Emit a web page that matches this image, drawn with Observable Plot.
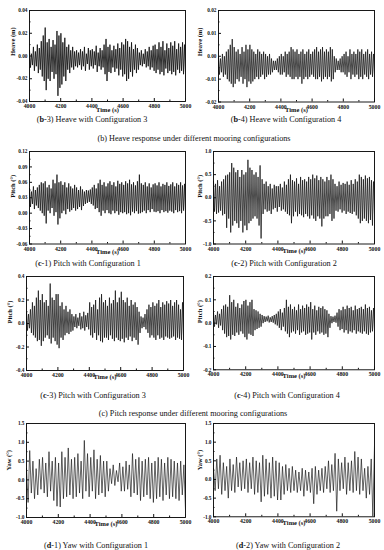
<!DOCTYPE html>
<html><head><meta charset="utf-8">
<script src="https://cdn.jsdelivr.net/npm/d3@7"></script>
<script src="https://cdn.jsdelivr.net/npm/@observablehq/plot@0.6"></script>
<style>
body{margin:0;background:#fff;}
#fig{position:relative;width:384px;height:550px;overflow:hidden;background:#fff;font-family:"Liberation Serif",serif;color:#111;}
.cap{position:absolute;white-space:nowrap;font-size:8.2px;line-height:9px;transform:translate(-50%,-50%);}
.panel{position:absolute;}
</style></head><body><div id="fig"></div>
<script>
// ---- data (time series sampled uniformly from 4000 s to 5000 s) ----
const T0 = 4000, T1 = 5000;
const xTicks = [4000, 4200, 4400, 4600, 4800, 5000];
const xMinor = [4100, 4300, 4500, 4700, 4900];

// Heave, configuration 3 (mm)
const heaveB3_mm = [
  5,-10,2,-8,8,-13,4,-9,10,-15,7,-12,13,-18,18,-22,
  25,-30,12,-20,15,-22,8,-14,14,-20,10,-16,22,-35,18,-28,
  20,-25,12,-18,16,-22,8,-12,10,-15,5,-10,8,-12,4,-9,
  5,-10,3,-8,6,-12,4,-9,8,-13,2,-7,7,-12,5,-9,
  6,-11,4,-8,9,-14,3,-9,7,-12,5,-10,10,-16,15,-22,
  8,-14,10,-15,5,-10,9,-14,6,-11,11,-17,7,-12,12,-18,
  10,-16,15,-22,13,-20,8,-14,12,-18,6,-12,10,-15,7,-12,
  3,-8,5,-9,2,-7,6,-10,4,-9,8,-12,5,-10,9,-13,
  10,-15,6,-12,12,-16,8,-14,13,-17,5,-11,11,-15,7,-13,
  12,-16,9,-14,13,-17,6,-12,11,-15,8,-13,12,-16,10,-14
];
// Heave, configuration 4 (mm)
const heaveB4_mm = [
  0,-8,-1,-7,1,-9,0,-8,2,-10,3,-11,5,-12,7.5,-13.5,
  4,-12,2,-10,3,-11,1,-9,4,-12,2,-10,5,-13.5,3,-11,
  5,-12,3,-11,2,-10,1,-9,3,-10,2,-9,1,-8,2,-10,
  1,-9,0,-8,1,-8,-1,-7,-2,-6,-2,-6,-1,-7,0,-8,
  1,-8,0,-7,2,-9,1,-8,2,-9,4,-10,3,-10,2,-9,
  3,-10,1,-9,2,-12,3,-10,1,-9,2,-10,3,-9,1,-8,
  2,-9,3,-10,4,-10,2,-9,3,-11,4,-10,2,-9,3,-10,
  2,-9,4,-11,3,-10,0,-7,-1,-6,-2,-6,-1,-7,0,-7,
  1,-8,2,-9,0,-7,3,-10,1,-8,2,-9,1,-8,3,-10,
  2,-9,3,-10,1,-8,2,-9,3,-10,1,-8,2,-9,1,-8
];
// Pitch, configuration 1 (thousandths of a degree)
const pitchC1_mdeg = [
  48,12,42,18,52,8,45,15,50,10,55,5,60,0,58,-5,
  62,-20,50,5,55,0,48,10,65,-5,58,2,75,-22,60,-10,
  62,0,55,5,60,-2,50,8,58,3,52,6,48,10,55,5,
  50,8,45,12,52,6,46,14,42,18,45,20,44,22,46,18,
  50,15,55,8,48,10,58,2,65,-5,55,5,60,0,52,6,
  58,0,62,-2,55,5,60,0,52,4,63,-3,57,2,60,0,
  55,2,62,-2,58,0,65,-4,56,3,60,0,54,4,62,-1,
  75,0,58,2,55,5,60,0,52,6,58,2,50,8,56,3,
  58,2,54,4,60,0,52,6,57,2,55,4,60,1,53,5,
  56,3,60,0,52,6,58,2,55,4,60,0,54,5,57,3
];
// Pitch, configuration 2 (hundredths of a degree)
const pitchC2_cdeg = [
  35,-30,30,-35,38,-32,25,-28,35,-38,40,-35,48,-65,50,-45,
  55,-75,75,-60,65,-50,55,-55,60,-65,45,-50,60,-75,50,-60,
  55,-70,82,-55,65,-50,60,-45,50,-40,55,-45,45,-60,70,-88,
  40,-35,30,-25,35,-30,25,-28,30,-35,20,-25,28,-22,25,-30,
  25,-20,30,-28,22,-25,35,-30,28,-35,40,-38,50,-55,38,-40,
  35,-30,42,-40,30,-35,45,-38,38,-42,40,-35,35,-40,45,-45,
  40,-38,50,-45,42,-50,48,-40,38,-45,45,-62,40,-45,35,-40,
  45,-40,38,-35,50,-50,40,-45,30,-28,25,-30,35,-25,28,-32,
  32,-28,30,-35,35,-30,28,-33,38,-35,30,-30,40,-38,35,-45,
  50,-55,45,-50,40,-45,48,-50,42,-55,45,-48,38,-60,35,-35
];
// Pitch, configuration 3 (hundredths of a degree)
const pitchC3_cdeg = [
  10,-6,8,-4,12,-8,18,-10,15,-12,22,-15,28,-14,20,-19,
  25,-15,18,-12,20,-10,15,-13,34,-17,22,-12,20,-15,25,-18,
  25,-21,15,-12,18,-14,12,-10,15,-8,10,-9,12,-7,8,-6,
  6,-3,8,-4,5,-2,9,-5,6,-4,10,-6,7,-3,9,-5,
  18,-10,14,-12,16,-8,20,-14,12,-10,22,-15,25,-16,18,-12,
  20,-12,15,-14,22,-10,17,-13,20,-15,28,-12,18,-14,22,-15,
  27,-13,20,-16,18,-12,22,-14,15,-11,20,-15,16,-12,18,-14,
  14,-18,10,-8,6,-4,5,-3,8,-5,12,-8,16,-12,14,-10,
  18,-12,15,-14,17,-10,20,-13,14,-12,18,-14,16,-11,19,-12,
  17,-13,20,-12,15,-11,18,-14,20,-12,16,-13,12,-14,18,-10
];
// Pitch, configuration 4 (thousandths of a degree)
const pitchC4_mdeg = [
  45,-15,35,-5,50,-20,40,-10,60,-30,75,-45,80,-60,70,-55,
  120,-70,90,-50,100,-55,70,-40,85,-50,65,-35,80,-45,95,-60,
  100,-70,75,-45,90,-50,100,-55,60,-30,55,-25,50,-20,40,-15,
  35,0,30,5,28,8,32,3,25,5,30,2,35,-5,40,-10,
  50,-20,60,-30,45,-15,65,-35,100,-45,70,-60,80,-40,60,-35,
  70,-45,55,-30,80,-50,60,-40,75,-35,65,-50,80,-45,70,-40,
  90,-70,60,-40,75,-50,55,-35,70,-45,65,-40,72,-50,60,-45,
  55,-60,40,-20,30,0,28,5,32,2,45,-15,60,-30,55,-25,
  70,-40,60,-30,75,-45,65,-35,70,-40,55,-30,75,-45,60,-35,
  65,-40,70,-45,60,-35,80,-45,65,-50,70,-40,55,-35,65,-30
];
// Yaw, configuration 1 (hundredths of a degree)
const yawD1_cdeg = [
  30,-60,78,-35,50,-50,30,-40,55,-25,
  60,-35,45,-45,75,-30,50,-55,60,-70,
  45,-72,75,-50,60,-45,85,-40,55,-50,
  60,-45,70,-35,50,-50,105,-30,70,-45,
  60,-30,80,-50,55,-40,65,-35,50,-45,
  50,-30,30,-10,40,-15,25,-5,45,-30,
  35,-30,50,-25,40,-45,70,-35,55,-40,
  60,-55,50,-45,55,-40,60,-50,45,-60,
  50,-50,60,-45,55,-55,45,-40,60,-50,
  55,-45,50,-50,45,-55,50,-40,40,-80
];
// Yaw, configuration 2 (hundredths of a degree)
const yawD2_cdeg = [
  30,-30,55,-25,65,-40,45,-30,35,-50,
  55,-30,40,-35,60,-20,45,-30,50,-25,
  55,-35,45,-25,60,-40,50,-35,45,-60,
  65,-45,55,-40,45,-50,60,-45,50,-55,
  45,-55,35,-40,40,-30,30,-35,35,-30,
  25,-35,20,-30,30,-45,25,-30,20,-35,
  30,-65,35,-40,25,-30,30,-35,35,-25,
  50,-35,40,-30,70,-85,55,-30,45,-25,
  60,-40,45,-30,50,-35,75,-30,60,-40,
  55,-30,30,-50,35,-40,55,-100,90
];

const captions = [
  {html: "(<b>b</b>-3) Heave with Configuration 3", x: 92, y: 119},
  {html: "(<b>b</b>-4) Heave with Configuration 4", x: 286, y: 119},
  {html: "(b) Heave response under different mooring configurations", x: 194, y: 138},
  {html: "(<b>c</b>-1) Pitch with Configuration 1", x: 88, y: 263},
  {html: "(<b>c</b>-2) Pitch with Configuration 2", x: 284, y: 263},
  {html: "(<b>c</b>-3) Pitch with Configuration 3", x: 93, y: 395},
  {html: "(<b>c</b>-4) Pitch with Configuration 4", x: 287, y: 395},
  {html: "(c) Pitch response under different mooring configurations", x: 193, y: 413},
  {html: "(<b>d</b>-1) Yaw with Configuration 1", x: 96, y: 545},
  {html: "(<b>d</b>-2) Yaw with Configuration 2", x: 288, y: 545}
];

const panels = [
  {values: heaveB3_mm, div: 1000, yLabel: "Heave (m)", yTicks: [-0.04,-0.02,0,0.02,0.04], yMinor: [-0.03,-0.01,0.01,0.03], dec: 2, fx: 29, fy: 10, fw: 156, fh: 91, ylDx: -17, tickPad: 2.8, tDy: 10.8, sw: 0.85},
  {values: heaveB4_mm, div: 1000, yLabel: "Heave (m)", yTicks: [-0.02,-0.01,0,0.01,0.02], yMinor: [-0.015,-0.005,0.005,0.015], dec: 2, fx: 218, fy: 10, fw: 156, fh: 91.5, ylDx: -19, tickPad: 2.4, tDy: 9.8, sw: 0.75},
  {values: pitchC1_mdeg, div: 1000, yLabel: "Pitch (°)", yTicks: [-0.06,-0.03,0,0.03,0.06,0.09,0.12], yMinor: [-0.045,-0.015,0.015,0.045,0.075,0.105], dec: 2, fx: 29, fy: 150.5, fw: 156, fh: 92.5, ylDx: -17, tickPad: 2.4, tDy: 9.6, sw: 0.8},
  {values: pitchC2_cdeg, div: 100, yLabel: "Pitch (°)", yTicks: [-1,-0.5,0,0.5,1], yMinor: [-0.75,-0.25,0.25,0.75], dec: 1, fx: 213, fy: 150.5, fw: 161, fh: 92.5, ylDx: -14, tickPad: 2.4, tDy: 8.8, sw: 0.75},
  {values: pitchC3_cdeg, div: 100, yLabel: "Pitch (°)", yTicks: [-0.4,-0.2,0,0.2,0.4], yMinor: [-0.3,-0.1,0.1,0.3], dec: 1, fx: 26, fy: 276, fw: 157, fh: 94, ylDx: -17, tickPad: 2.4, tDy: 8.2, sw: 0.75},
  {values: pitchC4_mdeg, div: 1000, yLabel: "Pitch (°)", yTicks: [-0.2,-0.1,0,0.1,0.2], yMinor: [-0.15,-0.05,0.05,0.15], dec: 1, fx: 213, fy: 276, fw: 161, fh: 93.3, ylDx: -14, tickPad: 2.4, tDy: 8, sw: 0.75},
  {values: yawD1_cdeg, div: 100, yLabel: "Yaw (°)", yTicks: [-1,-0.5,0,0.5,1,1.5], yMinor: [-0.75,-0.25,0.25,0.75,1.25], dec: 1, fx: 26, fy: 422.7, fw: 159, fh: 94, ylDx: -18, tickPad: 2.4, tDy: 8.3, sw: 0.65},
  {values: yawD2_cdeg, div: 100, yLabel: "Yaw (°)", yTicks: [-1,-0.5,0,0.5,1,1.5], yMinor: [-0.75,-0.25,0.25,0.75,1.25], dec: 1, fx: 213, fy: 422.7, fw: 161, fh: 93.3, ylDx: -14, tickPad: 2.4, tDy: 8.3, sw: 0.65}
];

const fig = document.getElementById("fig");

function drawPanel(p) {
  const ml = 36, mr = 4, mt = 5, mb = 18;
  const n = p.values.length;
  const data = p.values.map((v, i) => ({t: T0 + (T1 - T0) * i / (n - 1), v: v / p.div}));
  const yDom = [p.yTicks[0], p.yTicks[p.yTicks.length - 1]];
  const chart = Plot.plot({
    width: p.fw + ml + mr, height: p.fh + mt + mb,
    marginLeft: ml, marginRight: mr, marginTop: mt, marginBottom: mb,
    style: {fontFamily: "Liberation Serif", fontWeight: "bold", background: "transparent", overflow: "visible", color: "#111"},
    x: {domain: [T0, T1]},
    y: {domain: yDom},
    marks: [
      Plot.line(data, {x: "t", y: "v", stroke: "#111", strokeWidth: p.sw, clip: true}),
      Plot.frame({stroke: "#000", strokeWidth: 0.9}),
      Plot.axisX(xTicks, {tickSize: -3, tickFormat: () => "", label: null}),
      Plot.axisX(xMinor, {tickSize: -1.5, tickFormat: () => "", label: null}),
      Plot.axisX(xTicks, {tickSize: 0, tickPadding: p.tickPad, tickFormat: d => String(d), fontSize: 5.8, fontWeight: "bold", label: null}),
      Plot.axisY(p.yTicks, {tickSize: -3, tickFormat: () => "", label: null}),
      Plot.axisY(p.yMinor, {tickSize: -1.5, tickFormat: () => "", label: null}),
      Plot.axisY(p.yTicks, {tickSize: 0, tickPadding: 2, tickFormat: d => d.toFixed(p.dec), fontSize: 5.3, fontWeight: "bold", label: null}),
      Plot.text([p.yLabel], {frameAnchor: "left", dx: p.ylDx, rotate: -90, text: d => d, fontSize: 6.5, fontWeight: "bold"}),
      Plot.text(["Time (s)"], {frameAnchor: "bottom", dy: p.tDy, text: d => d, fontSize: 6.5, fontWeight: "bold"})
    ]
  });
  chart.classList.add("panel");
  chart.style.left = (p.fx - ml) + "px";
  chart.style.top = (p.fy - mt) + "px";
  fig.appendChild(chart);
}

panels.forEach(drawPanel);

for (const c of captions) {
  const d = document.createElement("div");
  d.className = "cap";
  d.innerHTML = c.html;
  d.style.left = c.x + "px";
  d.style.top = c.y + "px";
  fig.appendChild(d);
}
</script></body></html>
